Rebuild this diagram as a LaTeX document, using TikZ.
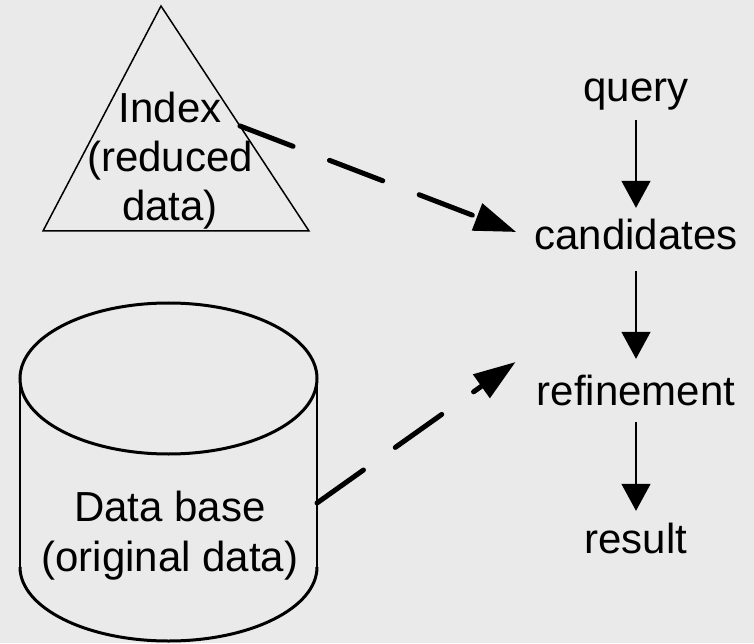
\documentclass[tikz,border=0pt]{standalone}
\usepackage{fontspec}
\setmainfont{Liberation Sans}
\usetikzlibrary{arrows.meta,calc}
\definecolor{bg}{RGB}{234,234,234}
\begin{document}
\begin{tikzpicture}[x=1pt,y=1pt,
  lbl/.style={inner sep=0pt, font=\fontsize{42pt}{49pt}\selectfont},
  stage/.style={lbl, anchor=base, text height=30pt, text depth=9pt},
  flow/.style={line width=1.5pt, -{Triangle[length=27pt,width=29pt]}},
  hint/.style={line width=5pt, line cap=round, dash pattern=on 57pt off 39pt, -{Triangle[length=42pt,width=28pt]}},
  thinline/.style={line width=1.5pt},
  thickline/.style={line width=3pt}]
\fill[bg] (0,0) rectangle (754,643);
\useasboundingbox (0,0) rectangle (754,643);
% index triangle
\coordinate (apex) at (161,637);
\coordinate (bl) at (43,412);
\coordinate (br) at (309,412);
\draw[thinline] (apex) -- (bl) -- (br) -- cycle;
\node[lbl, align=center] (index) at (170,482.5) {Index\\(reduced\\data)};
% data base cylinder
\draw[thinline] (20,264.5) -- (20,76) (317,264.5) -- (317,76);
\draw[thickline] (168.5,264.5) ellipse [x radius=148.5pt, y radius=75.5pt];
\draw[thickline] (20,76) arc [start angle=180, end angle=360, x radius=148.5pt, y radius=74pt];
\node[lbl, align=center, font=\fontsize{42pt}{50pt}\selectfont] (db) at (170,107.5) {Data base\\(original data)};
% processing chain
\node[stage] (query) at (636,541) {query};
\node[stage] (candidates) at (636,393) {candidates};
\node[stage] (refinement) at (636,238) {refinement};
\node[stage] (result) at (636,90) {result};
\draw[flow, shorten <=9pt, shorten >=12pt] (query.south) -- (candidates.north);
\draw[flow, shorten <=12pt, shorten >=16pt] (candidates.south) -- (refinement.north);
\draw[flow, shorten <=8pt, shorten >=12pt] (refinement.south) -- (result.north);
% dashed connectors
\coordinate (idx-out) at ($(apex)!0.533!(br)$);
\coordinate (db-out) at (317,140);
\coordinate (cand-in) at ([shift={(-18,18)}]candidates.base west);
\coordinate (ref-in) at ([shift={(-21,43)}]refinement.base west);
\draw[hint] (idx-out) -- (cand-in);
\draw[hint] (db-out) -- (ref-in);
\end{tikzpicture}
\end{document}
